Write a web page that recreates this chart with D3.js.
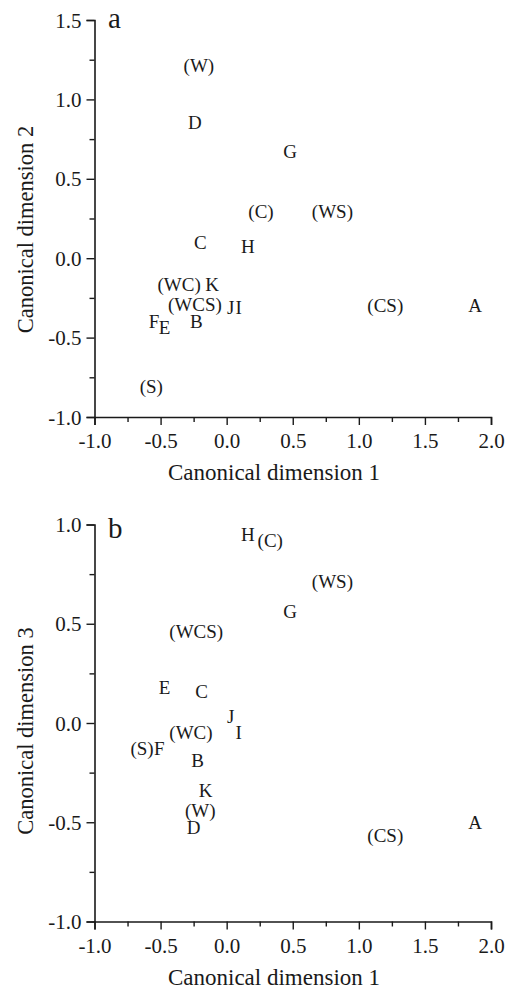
<!DOCTYPE html>
<html>
<head>
<meta charset="utf-8">
<script src="https://cdn.jsdelivr.net/npm/d3@7"></script>
<style>
  body { margin: 0; background: #fff; }
  svg text { font-family: "Liberation Serif", "DejaVu Serif", serif; fill: #1a1a1a; }
</style>
</head>
<body>
<div id="chart"></div>
<script>
// panel a: canonical dimension 1 vs 2
const labelsA = ["(W)", "D", "G", "(C)", "(WS)", "C", "H", "(WC)", "K", "(WCS)", "J", "I", "F", "E", "B", "(S)", "(CS)", "A"];
const dim1A = [-0.21, -0.24, 0.48, 0.26, 0.80, -0.20, 0.16, -0.36, -0.11, -0.24, 0.03, 0.09, -0.55, -0.47, -0.23, -0.57, 1.20, 1.88];
const dim2A = [1.21, 0.85, 0.67, 0.29, 0.29, 0.10, 0.07, -0.17, -0.17, -0.29, -0.31, -0.31, -0.40, -0.44, -0.40, -0.81, -0.30, -0.30];

// panel b: canonical dimension 1 vs 3
const labelsB = ["H", "(C)", "(WS)", "G", "(WCS)", "E", "C", "J", "I", "(WC)", "(S)", "F", "B", "K", "(W)", "D", "(CS)", "A"];
const dim1B = [0.16, 0.33, 0.80, 0.48, -0.23, -0.47, -0.19, 0.03, 0.09, -0.27, -0.64, -0.51, -0.22, -0.16, -0.20, -0.25, 1.20, 1.88];
const dim3B = [0.95, 0.92, 0.71, 0.56, 0.46, 0.18, 0.16, 0.03, -0.05, -0.05, -0.13, -0.13, -0.19, -0.34, -0.44, -0.53, -0.57, -0.50];

const xTicks = [-1.0, -0.5, 0.0, 0.5, 1.0, 1.5, 2.0];
const xMinor = [-0.75, -0.25, 0.25, 0.75, 1.25, 1.75];
const yTicksA = [-1.0, -0.5, 0.0, 0.5, 1.0, 1.5];
const yMinorA = [-0.75, -0.25, 0.25, 0.75, 1.25];
const yTicksB = [-1.0, -0.5, 0.0, 0.5, 1.0];
const yMinorB = [-0.75, -0.25, 0.25, 0.75];

const W = 511, H = 988;
const svg = d3.select("#chart").append("svg")
    .attr("width", W)
    .attr("height", H);

// plain hyphen for negatives, like the original
const fmt = d => d.toFixed(1);

function panel(opts) {
    const x = d3.scaleLinear().domain([-1, 2]).range([94.5, 491]);
    const y = d3.scaleLinear().domain(opts.yDomain).range([opts.bottom, opts.top]);
    const g = svg.append("g");

    // x axis, major then minor ticks
    const xa = g.append("g")
        .attr("transform", `translate(0,${opts.bottom})`)
        .call(d3.axisBottom(x).tickValues(xTicks).tickSize(8).tickPadding(6).tickFormat(fmt));
    g.append("g")
        .attr("transform", `translate(0,${opts.bottom})`)
        .call(d3.axisBottom(x).tickValues(xMinor).tickSize(5).tickFormat(""))
        .select(".domain").remove();

    // y axis
    const ya = g.append("g")
        .attr("transform", `translate(${x(-1)},0)`)
        .call(d3.axisLeft(y).tickValues(opts.yTicks).tickSize(8).tickPadding(5).tickFormat(fmt));
    g.append("g")
        .attr("transform", `translate(${x(-1)},0)`)
        .call(d3.axisLeft(y).tickValues(opts.yMinor).tickSize(5).tickFormat(""))
        .select(".domain").remove();

    g.selectAll(".domain").attr("stroke", "#1a1a1a").attr("stroke-width", 1.6);
    g.selectAll(".tick line").attr("stroke", "#1a1a1a").attr("stroke-width", 1.4);
    g.selectAll(".tick text")
        .style("font-family", "'Liberation Serif', 'DejaVu Serif', serif")
        .style("font-size", "21px")
        .attr("fill", "#1a1a1a");
    xa.selectAll(".tick text").attr("dy", "0.82em");
    ya.selectAll(".tick text").attr("dy", "0.34em");

    // axis titles
    g.append("text")
        .attr("x", 274)
        .attr("y", opts.bottom + 63)
        .attr("text-anchor", "middle")
        .style("font-size", "23px")
        .text("Canonical dimension 1");
    g.append("text")
        .attr("transform", `translate(33,${opts.yTitleMid}) rotate(-90)`)
        .attr("text-anchor", "middle")
        .style("font-size", "22.5px")
        .text(opts.yTitle);

    // panel letter
    g.append("text")
        .attr("x", 108)
        .attr("y", opts.top + opts.letterDy)
        .style("font-size", "29px")
        .text(opts.letter);

    // point labels
    g.selectAll(".pt")
        .data(opts.labels)
        .join("text")
        .attr("class", "pt")
        .attr("x", (d, i) => x(opts.xs[i]))
        .attr("y", (d, i) => y(opts.ys[i]))
        .attr("dy", "0.33em")
        .attr("text-anchor", "middle")
        .style("font-size", "19px")
        .text(d => d);
}

panel({
    top: 20, bottom: 417, yDomain: [-1, 1.5],
    yTicks: yTicksA, yMinor: yMinorA,
    yTitle: "Canonical dimension 2", yTitleMid: 229.5, letter: "a", letterDy: 8,
    labels: labelsA, xs: dim1A, ys: dim2A
});

panel({
    top: 524.5, bottom: 921.5, yDomain: [-1, 1],
    yTicks: yTicksB, yMinor: yMinorB,
    yTitle: "Canonical dimension 3", yTitleMid: 731, letter: "b", letterDy: 13,
    labels: labelsB, xs: dim1B, ys: dim3B
});
</script>
</body>
</html>
